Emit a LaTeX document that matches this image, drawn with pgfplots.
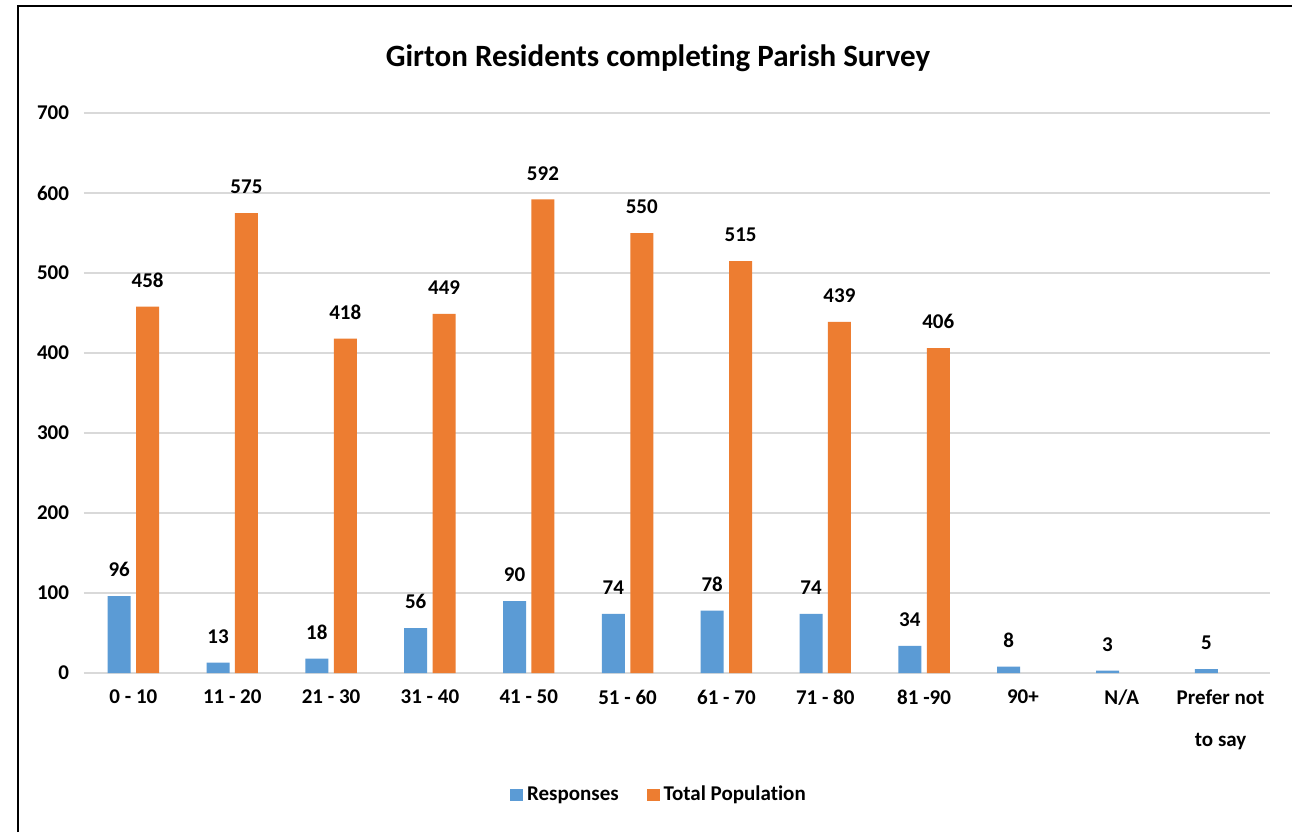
\documentclass[border=0pt]{standalone}
\usepackage{pgfplots}
\pgfplotsset{compat=1.18}
\usepackage{fontspec}
\setmainfont{Carlito}[Ligatures={NoCommon,NoRare,NoContextual}]
\definecolor{cblue}{HTML}{5B9BD5}
\definecolor{corange}{HTML}{ED7D31}
\definecolor{cgrid}{HTML}{D9D9D9}
\begin{document}
\begin{tikzpicture}
\useasboundingbox (-42pt,-79.5pt) rectangle (604pt,336.5pt);
\fill[white] (-42pt,-79.5pt) rectangle (604pt,336.5pt);
\draw[line width=1pt,black] (-33pt,-79.5pt) -- (-33pt,333.5pt) -- (604pt,333.5pt);
\node[font=\fontsize{15.5}{18}\selectfont\bfseries] at (287pt,307.5pt) {Girton Residents completing Parish Survey};
\begin{axis}[
  at={(0pt,0pt)}, anchor=south west,
  scale only axis, width=593pt, height=280pt,
  ybar, bar width=11.5pt, bar shift auto,
  xmin=-0.5, xmax=11.5, ymin=0, ymax=700,
  ytick={0,100,...,700},
  xtick={0,...,11},
  xticklabels={0 - 10,11 - 20,21 - 30,31 - 40,41 - 50,51 - 60,61 - 70,71 - 80,81 -90,90+,N/A,Prefer not\\to say},
  xticklabel style={align=center, anchor=north, yshift=-5pt, font=\fontsize{10.5}{21}\selectfont\bfseries},
  yticklabel style={font=\fontsize{10.5}{12}\selectfont\bfseries, xshift=-4pt},
  /pgf/number format/assume math mode=true,
  major tick length=0pt,
  axis line style={draw=none},
  ymajorgrids, grid style={cgrid, line width=1pt},
  nodes near coords,
  every node near coord/.append style={font=\fontsize{10.5}{12}\selectfont\bfseries, yshift=6pt},
  legend columns=2,
  legend style={draw=none, at={(288pt,-61pt)}, anchor=center, font=\fontsize{10.5}{12}\selectfont\bfseries, /tikz/every even column/.append style={column sep=12pt}},
  legend image code/.code={\fill[#1,draw=none] (0pt,-3.2pt) rectangle (6.4pt,3.2pt);},
  clip=false,
]
\addplot[fill=cblue, draw=none, bar shift=-7.1pt] coordinates {(0,96) (1,13) (2,18) (3,56) (4,90) (5,74) (6,78) (7,74) (8,34) (9,8) (10,3) (11,5)};
\addplot[fill=corange, draw=none, bar shift=7.1pt] coordinates {(0,458) (1,575) (2,418) (3,449) (4,592) (5,550) (6,515) (7,439) (8,406)};
\legend{Responses, Total Population}
\end{axis}
\end{tikzpicture}
\end{document}
